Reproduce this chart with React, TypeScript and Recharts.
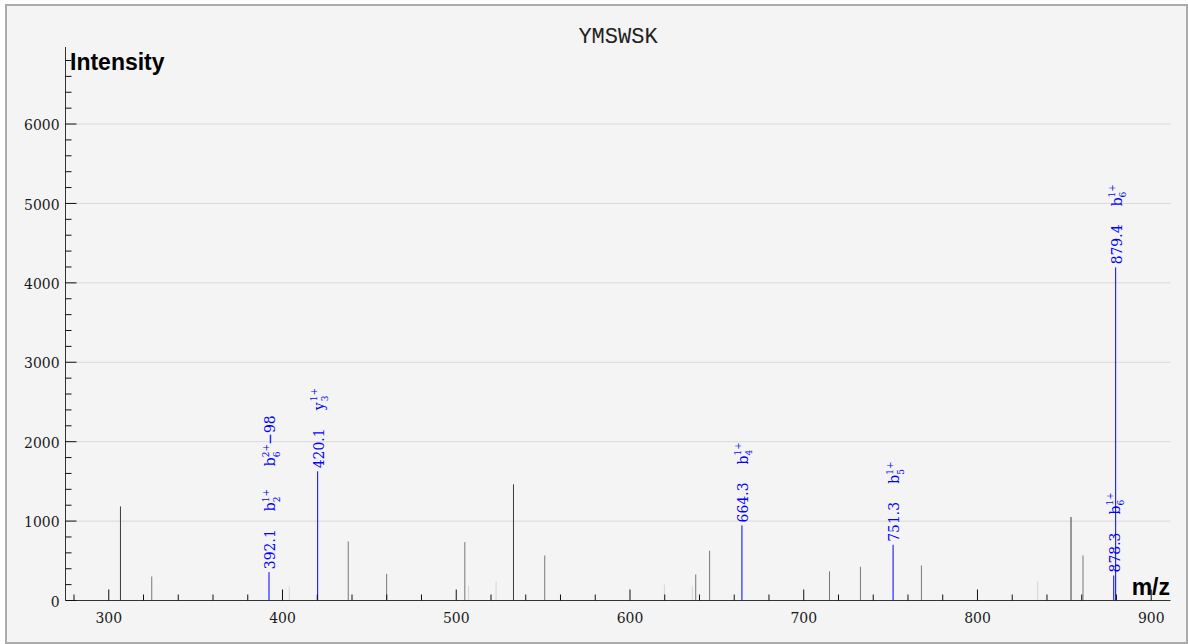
import { ComposedChart, Bar, XAxis, YAxis, CartesianGrid } from "recharts";

const title = "YMSWSK";

// unassigned peaks
const peakMz = [306.6, 324.6, 403.8, 437.7, 459.8, 504.8, 507.0, 522.8, 532.8, 550.8, 619.7, 635.7, 637.7, 645.7, 714.7, 732.5, 767.6, 834.5, 853.7, 860.6];
const peakIntensity = [1185, 303, 180, 744, 336, 735, 185, 240, 1463, 567, 202, 177, 328, 627, 366, 425, 441, 240, 1051, 567];

// assigned fragment ions
const ionMz = [392.1, 420.1, 664.3, 751.3, 878.3, 879.4];
const ionIntensity = [357, 1627, 946, 702, 315, 4195];
const ionLabels = [["b_2^1+", "b_6^2+-98"], ["y_3^1+"], ["b_4^1+"], ["b_5^1+"], ["b_6^1+"], ["b_6^1+"]];

const xTicks = [280, 300, 320, 340, 360, 380, 400, 420, 440, 460, 480, 500, 520, 540, 560, 580, 600, 620, 640, 660, 680, 700, 720, 740, 760, 780, 800, 820, 840, 860, 880, 900];
const yTicks = [0, 200, 400, 600, 800, 1000, 1200, 1400, 1600, 1800, 2000, 2200, 2400, 2600, 2800, 3000, 3200, 3400, 3600, 3800, 4000, 4200, 4400, 4600, 4800, 5000, 5200, 5400, 5600, 5800, 6000, 6200, 6400, 6600, 6800];
const gridY = [1000, 2000, 3000, 4000, 5000, 6000];

type Row = { mz: number; intensity: number; ions: string[] };

const rows: Row[] = [
  ...peakMz.map((mz, i) => ({ mz, intensity: peakIntensity[i], ions: [] as string[] })),
  ...ionMz.map((mz, i) => ({ mz, intensity: ionIntensity[i], ions: ionLabels[i] })),
].sort((a, b) => a.mz - b.mz);

const BLUE = "#0000ff";
const SERIF = "'DejaVu Serif Condensed', 'DejaVu Serif', serif";
const SANS = "'Liberation Sans', Arial, sans-serif";

function shade(v: number) {
  if (v < 260) return "#d6d6d6";
  if (v < 1000) return "#777777";
  return "#3c3c3c";
}

function IonText({ spec, x }: { spec: string; x: number }) {
  const m = spec.match(/^([a-z])_(\d+)\^(\d\+)(.*)$/);
  if (!m) return null;
  const [, ion, sub, sup, rest] = m;
  const big = 15.5;
  const small = 10;
  const ionW = big * 0.58;
  const scriptW = sup.length * small * 0.62;
  return (
    <g fill={BLUE} fontFamily={SERIF} style={{ fontStretch: "condensed" }}>
      <text x={x} y={6} fontSize={big}>{ion}</text>
      <text x={x + ionW} y={-0.5} fontSize={small}>{sup}</text>
      <text x={x + ionW} y={10.5} fontSize={small}>{sub}</text>
      {rest && (
        <text x={x + ionW + scriptW} y={6} fontSize={big}>
          {rest.replace("-", "\u2212")}
        </text>
      )}
    </g>
  );
}

function PeakShape(props: any) {
  const { x, y, width, height, payload } = props;
  const cx = x + width / 2;
  const base = y + height;
  const tagged = payload.ions.length > 0;
  return (
    <g>
      <line x1={cx} x2={cx} y1={base} y2={y} stroke={tagged ? BLUE : shade(payload.intensity)} strokeWidth={1} />
      {tagged && (
        <g transform={`translate(${cx},${y}) rotate(-90)`}>
          <text x={3} y={6} fill={BLUE} fontFamily={SERIF} fontSize={15.5} style={{ fontStretch: "condensed" }}>
            {payload.mz.toFixed(1)}
          </text>
          {payload.ions.map((s: string, i: number) => (
            <IonText key={i} spec={s} x={61 + i * 45} />
          ))}
        </g>
      )}
    </g>
  );
}

function XTick(props: any) {
  const { x, y, payload } = props;
  const major = payload.value % 100 === 0;
  return (
    <g>
      <line x1={x} x2={x} y1={y} y2={y - (major ? 11 : 6)} stroke="#111" />
      {major && (
        <text x={x} y={y + 22.5} textAnchor="middle" fontFamily={SERIF} fontSize={15.5} fill="#1a1a1a" style={{ fontStretch: "condensed" }}>
          {payload.value}
        </text>
      )}
    </g>
  );
}

function YTick(props: any) {
  const { x, y, payload } = props;
  const major = payload.value % 1000 === 0;
  return (
    <g>
      <line x1={x} x2={x + (major ? 11 : 6)} y1={y} y2={y} stroke="#111" />
      {major && (
        <text x={x - 6} y={y + 6.2} textAnchor="end" fontFamily={SERIF} fontSize={15.5} fill="#1a1a1a" style={{ fontStretch: "condensed" }}>
          {payload.value}
        </text>
      )}
    </g>
  );
}

export default function App() {
  return (
    <div style={{ position: "absolute", left: 0, top: 0, width: 1188, height: 644, background: "#fff" }}>
      <div
        style={{
          position: "absolute",
          left: 5,
          top: 4,
          width: 1183,
          height: 640,
          boxSizing: "border-box",
          border: "2px solid #ababab",
          background: "#f4f4f4",
        }}
      />
      <div style={{ position: "absolute", left: 0, top: 0 }}>
        <ComposedChart width={1188} height={644} data={rows} margin={{ top: 47, right: 17.5, bottom: 3.5, left: 15.5 }}>
          <CartesianGrid vertical={false} horizontalValues={gridY} stroke="#d9d9d9" />
          <XAxis
            dataKey="mz"
            type="number"
            domain={[275.1, 911.1]}
            allowDataOverflow
            ticks={xTicks}
            interval={0}
            tick={<XTick />}
            tickLine={false}
            tickSize={0}
            tickMargin={0}
            height={40}
            axisLine={{ stroke: "#333" }}
          />
          <YAxis
            type="number"
            domain={[0, 6970]}
            allowDataOverflow
            ticks={yTicks}
            interval={0}
            tick={<YTick />}
            tickLine={false}
            tickSize={0}
            tickMargin={0}
            width={50}
            axisLine={{ stroke: "#333" }}
          />
          <Bar dataKey="intensity" shape={<PeakShape />} isAnimationActive={false} />
          <text x={618} y={42.5} textAnchor="middle" fontFamily="'Liberation Mono', 'Courier New', monospace" fontSize={22} fill="#222">
            {title}
          </text>
          <text x={70} y={69.5} fontFamily={SANS} fontWeight="bold" fontSize={23} fill="#000">
            Intensity
          </text>
          <text x={1170} y={595} textAnchor="end" fontFamily={SANS} fontWeight="bold" fontSize={23} fill="#000">
            m/z
          </text>
        </ComposedChart>
      </div>
    </div>
  );
}
